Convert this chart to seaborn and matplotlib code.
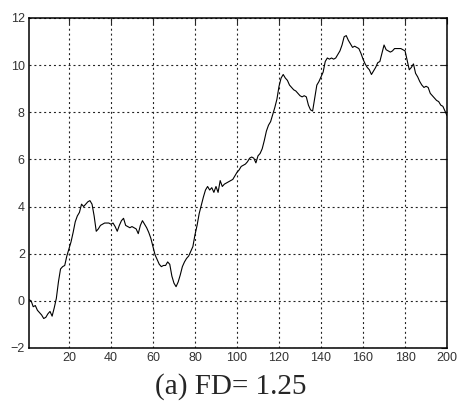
import numpy as np
import pandas as pd
import matplotlib
matplotlib.use("Agg")
import matplotlib.pyplot as plt
import seaborn as sns

# values, one per sample (x = 1..200)
x_vals = list(range(1, 201))
y_vals = [
    0.05, 0.0, -0.25, -0.2, -0.4, -0.5, -0.6, -0.75, -0.7, -0.55,
    -0.45, -0.65, -0.3, 0.1, 0.8, 1.35, 1.45, 1.5, 1.9, 2.2,
    2.5, 2.9, 3.35, 3.6, 3.75, 4.1, 4.0, 4.1, 4.2, 4.25,
    4.1, 3.6, 2.95, 3.05, 3.2, 3.25, 3.3, 3.3, 3.3, 3.25,
    3.3, 3.15, 2.95, 3.2, 3.4, 3.5, 3.2, 3.15, 3.1, 3.15,
    3.1, 3.05, 2.85, 3.2, 3.4, 3.25, 3.1, 2.9, 2.65, 2.3,
    1.95, 1.75, 1.55, 1.45, 1.5, 1.5, 1.65, 1.55, 1.05, 0.75,
    0.6, 0.8, 1.1, 1.45, 1.65, 1.8, 1.9, 2.1, 2.3, 2.8,
    3.2, 3.7, 4.05, 4.4, 4.7, 4.85, 4.7, 4.8, 4.6, 4.85,
    4.6, 5.1, 4.85, 4.95, 5.0, 5.05, 5.1, 5.15, 5.3, 5.45,
    5.55, 5.7, 5.75, 5.8, 5.9, 6.05, 6.1, 6.05, 5.85, 6.15,
    6.25, 6.45, 6.8, 7.2, 7.45, 7.6, 7.9, 8.2, 8.55, 9.1,
    9.45, 9.6, 9.45, 9.35, 9.15, 9.05, 8.95, 8.9, 8.8, 8.7,
    8.65, 8.7, 8.65, 8.3, 8.1, 8.05, 8.6, 9.15, 9.3, 9.5,
    9.7, 10.15, 10.3, 10.25, 10.3, 10.25, 10.3, 10.45, 10.6, 10.85,
    11.2, 11.25, 11.05, 10.9, 10.75, 10.8, 10.75, 10.7, 10.5, 10.25,
    10.05, 9.9, 9.8, 9.6, 9.75, 9.9, 10.1, 10.15, 10.5, 10.85,
    10.65, 10.6, 10.55, 10.6, 10.7, 10.7, 10.7, 10.7, 10.65, 10.6,
    10.2, 9.8, 9.9, 10.05, 9.65, 9.5, 9.3, 9.15, 9.05, 9.1,
    9.05, 8.8, 8.7, 8.6, 8.5, 8.45, 8.3, 8.25, 8.05, 7.85,
]
x_ticks = [20, 40, 60, 80, 100, 120, 140, 160, 180, 200]
y_ticks = [-2, 0, 2, 4, 6, 8, 10, 12]
caption = "(a) FD= 1.25"

df = pd.DataFrame({"x": x_vals, "y": y_vals})

sns.set_style("white")
plt.rcParams["font.family"] = ["Liberation Sans", "DejaVu Sans"]

fig = plt.figure(figsize=(4.74, 4.07), dpi=100)
ax = fig.add_axes([0.0612, 0.145, 0.882, 0.811])

sns.lineplot(data=df, x="x", y="y", color="black", linewidth=0.8, ax=ax)

ax.set_xlim(1, 200)
ax.set_ylim(-2, 12)
ax.set_xticks(x_ticks)
ax.set_yticks(y_ticks)
ax.set_xlabel("")
ax.set_ylabel("")
ax.grid(True, color="#222222", linestyle=(0, (1.8, 2.6)), linewidth=0.8)
ax.tick_params(direction="in", length=4, width=0.8, top=True, right=True,
               labelsize=9, labelcolor="#333333", pad=3)
for s in ax.spines.values():
    s.set_color("black")
    s.set_linewidth(1.1)

fig.text(0.487, 0.016, caption, ha="center", va="bottom",
         family=["Liberation Serif", "DejaVu Serif"], fontsize=21)

fig.savefig("out.png", dpi=100)
